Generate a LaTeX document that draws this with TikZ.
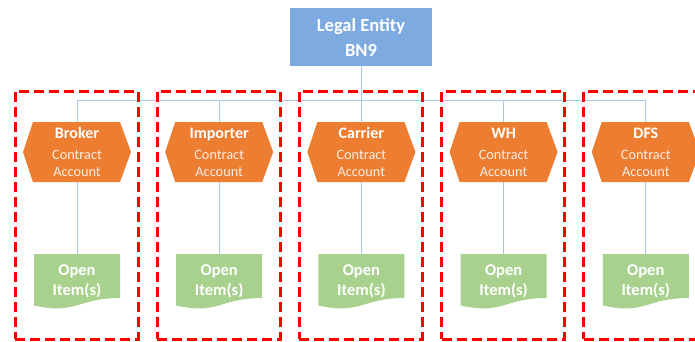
\documentclass[tikz,border=0pt]{standalone}
\usepackage{fontspec}
\setmainfont{Carlito}
\usetikzlibrary{calc}
\definecolor{lebl}{HTML}{7DAAE0}
\definecolor{caor}{HTML}{ED7D31}
\definecolor{oigr}{HTML}{A9D18E}
\definecolor{connc}{HTML}{A6C8EA}
\definecolor{redd}{HTML}{FF0000}
\definecolor{catext}{HTML}{FDEEE4}
\pgfdeclarelayer{bg}
\pgfsetlayers{bg,main}
\tikzset{
  lebox/.style={fill=lebl, minimum width=142pt, minimum height=58pt, inner sep=0pt,
    text=white, align=center, font=\bfseries\fontsize{18.5}{25}\selectfont},
  catxt/.style={inner sep=0pt, align=center, text=catext, font=\fontsize{14.3}{17}\selectfont},
  oitxt/.style={inner sep=0pt, minimum width=86pt, minimum height=55pt, align=center,
    text=white, font=\bfseries\fontsize{16.5}{20}\selectfont},
  conn/.style={draw=connc, line width=1pt},
  redbox/.style={draw=redd, line width=3pt, dash pattern=on 10pt off 5pt,
    minimum width=123pt, minimum height=248pt, inner sep=0pt},
}
\begin{document}
\begin{tikzpicture}[x=1pt,y=-1pt]
\clip (0,0) rectangle (695,341);
\node[lebox] (le) at (361,37) {Legal Entity\\BN9};
\foreach \i/\nm in {0/Broker,1/Importer,2/Carrier,3/WH,4/DFS}{
  \pgfmathsetmacro\cx{77+142.2*\i}
  % document shape
  \fill[oigr] (\cx-43,254) -- (\cx+43,254) -- (\cx+43,298)
     .. controls (\cx,298) and (\cx,315) .. (\cx-43,305.5) -- cycle;
  \node[oitxt, anchor=north] (oi\i) at (\cx,254) {\raisebox{0pt}{Open}\\Item(s)};
  % hexagon
  \fill[caor] (\cx-54,152) -- (\cx-44,122) -- (\cx+43,122) -- (\cx+54,152)
     -- (\cx+43,182) -- (\cx-44,182) -- cycle;
  \node[catxt] (ca\i) at (\cx,152) {{\color{white}\bfseries\fontsize{16}{17}\selectfont \nm}\\[4pt]Contract\\Account};
  \begin{pgfonlayer}{bg}
    \draw[conn] (le.south) -- ++(0,34) -| (oi\i.north);
  \end{pgfonlayer}
  \node[redbox] (g\i) at (\cx-0.5,215) {};
}
\end{tikzpicture}
\end{document}
